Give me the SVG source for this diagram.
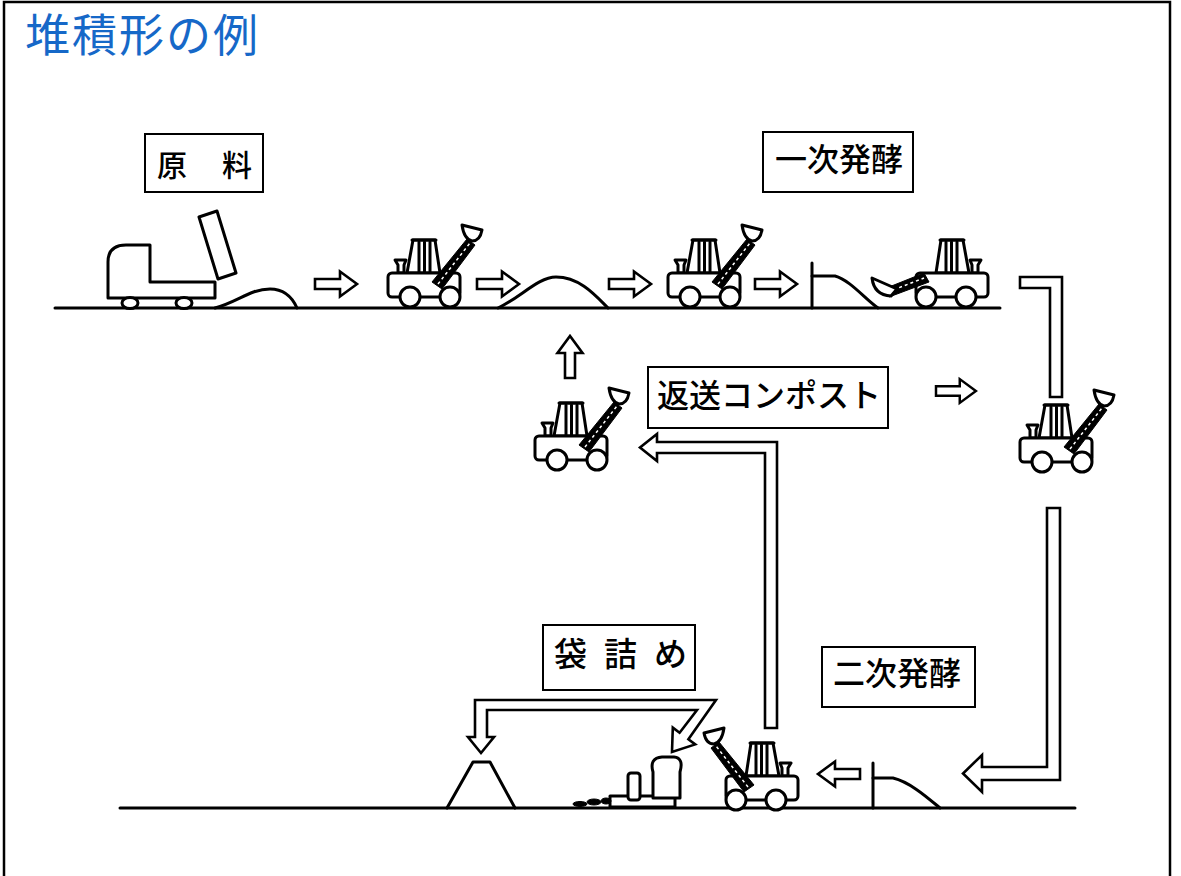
<svg xmlns="http://www.w3.org/2000/svg" xmlns:xlink="http://www.w3.org/1999/xlink" width="1181" height="876" viewBox="0 0 1181 876">
  <style>
    .ln { fill: none; stroke: #000; stroke-width: 3; stroke-linejoin: round; stroke-linecap: round; }
    .sh { fill: #fff; stroke: #000; stroke-width: 3; stroke-linejoin: round; }
    .blk { fill: #000; stroke: #000; stroke-width: 1; stroke-linejoin: round; }
    .hatch { fill: none; stroke: #fff; stroke-width: 1.5; stroke-dasharray: 3 3; }
    .arrow { fill: #fff; stroke: #000; stroke-width: 2.6; stroke-linejoin: miter; }
    .box { fill: #fff; stroke: #000; stroke-width: 2; }
    .lbl { font-family: "Noto Sans CJK JP", "Noto Sans CJK SC", sans-serif; font-weight: 500; fill: #000; }
    .title { font-family: "Noto Sans CJK JP", "Noto Sans CJK SC", sans-serif; fill: #1668c8; font-size: 45px; letter-spacing: 2px; }
  </style>
  <defs>
    <!-- wheel loader seen from the side: origin at body bottom-left, wheel centres on y=0 -->
    <g id="loader-base">
      <path class="sh" d="M19,-24 L25,-57 L47,-57 L52,-24 Z"/>
      <path class="ln" stroke-width="3.5" d="M31,-55 V-25 M36.5,-55 V-25 M42,-55 V-25"/>
      <path class="ln" stroke-width="4.5" d="M24,-57 H48"/>
      <path class="sh" d="M10,-24 V-32 L7,-37 H18 L16,-32 V-24 Z"/>
      <rect class="sh" x="0" y="-24" width="72" height="24" rx="4"/>
    </g>
    <g id="loader-wheels">
      <circle class="sh" cx="22" cy="0" r="10"/>
      <circle class="sh" cx="62" cy="0" r="10"/>
    </g>
    <!-- boom lifted with bucket up -->
    <g id="boom-up">
      <polygon class="blk" points="44,-15 54,-8 87,-52 79,-58"/>
      <path class="hatch" d="M50,-13 L82,-54"/>
      <path class="sh" d="M74,-72 L94,-67 Q92,-56 84,-56 Q76,-58 74,-72 Z"/>
    </g>
    <g id="loader-up">
      <use xlink:href="#loader-base"/>
      <use xlink:href="#boom-up"/>
      <use xlink:href="#loader-wheels"/>
    </g>
    <!-- hollow block arrow pointing right, origin at tail centre -->
    <path id="arrow-r" class="arrow" d="M0,-5 L25,-5 L25,-12.5 L42,0 L25,12.5 L25,5 L0,5 Z"/>
  </defs>

  <!-- outer frame and heading -->
  <rect x="4" y="2" width="1166" height="900" fill="none" stroke="#000" stroke-width="2.5"/>
  <text class="title" x="25" y="52">堆積形の例</text>

  <!-- ground lines -->
  <g id="ground">
    <path class="ln" d="M55,308 H1000"/>
    <path class="ln" d="M120,808 H1075"/>
  </g>

  <!-- labels -->
  <g id="label-raw">
    <rect class="box" x="145" y="134" width="118" height="58"/>
    <text class="lbl" font-size="30" x="157 222" y="176">原料</text>
  </g>
  <g id="label-primary">
    <rect class="box" x="763" y="132" width="150" height="60"/>
    <text class="lbl" font-size="32" x="775" y="171">一次発酵</text>
  </g>
  <g id="label-return">
    <rect class="box" x="648" y="367" width="240" height="61"/>
    <text class="lbl" font-size="32" x="657" y="407">返送コンポスト</text>
  </g>
  <g id="label-bagging">
    <rect class="box" x="543" y="625" width="152" height="65"/>
    <text class="lbl" font-size="33" x="554 604 654" y="666">袋詰め</text>
  </g>
  <g id="label-secondary">
    <rect class="box" x="822" y="647" width="153" height="60"/>
    <text class="lbl" font-size="32" x="833" y="685">二次発酵</text>
  </g>

  <!-- dump truck unloading raw material -->
  <g id="truck">
    <path class="sh" d="M108,298 V262 Q108,245 126,245 H150 V282 H215 V298 Z"/>
    <polygon class="sh" points="199,217 217,211 236,273 218,279"/>
    <ellipse class="sh" cx="130" cy="303" rx="8" ry="5.5"/>
    <ellipse class="sh" cx="184" cy="303" rx="8" ry="5.5"/>
  </g>
  <g id="pile-raw">
    <path class="ln" d="M215,308 C238,302 250,289 270,289 C285,289 293,299 297,308"/>
  </g>

  <g id="loader-1"><use xlink:href="#loader-up" transform="translate(388,297)"/></g>
  <g id="pile-mix">
    <path class="ln" d="M498,308 C520,298 538,277 556,277 C580,277 596,296 608,308"/>
  </g>
  <g id="loader-2"><use xlink:href="#loader-up" transform="translate(668,297)"/></g>

  <!-- primary fermentation heap against a wall -->
  <g id="pile-primary">
    <path class="ln" d="M812,263 V308"/>
    <path class="ln" d="M812,276 H835 C850,280 866,300 878,308"/>
  </g>
  <g id="loader-3">
    <g transform="translate(988,297) scale(-1,1)">
      <use xlink:href="#loader-base"/>
    </g>
    <polygon class="blk" points="884,289 889,297 929,282 924,273"/>
    <path class="hatch" d="M888,292 L924,278"/>
    <path class="sh" d="M872,278 Q874,295 891,296 L897,289 Z"/>
    <g transform="translate(988,297) scale(-1,1)">
      <use xlink:href="#loader-wheels"/>
    </g>
  </g>

  <g id="loader-4"><use xlink:href="#loader-up" transform="translate(1020,462)"/></g>
  <g id="loader-6"><use xlink:href="#loader-up" transform="translate(535,460)"/></g>

  <!-- secondary fermentation heap against a wall -->
  <g id="pile-secondary">
    <path class="ln" d="M873,763 V808"/>
    <path class="ln" d="M873,778 H893 C910,782 928,798 940,808"/>
  </g>
  <g id="loader-5"><use xlink:href="#loader-up" transform="translate(798,800) scale(-1,1)"/></g>

  <!-- bagging machine and product heap -->
  <g id="bagger">
    <rect class="sh" x="610" y="796" width="65" height="11"/>
    <rect class="sh" x="628" y="773" width="12" height="27" rx="3"/>
    <path class="sh" d="M653,798 V772 Q649,758 662,757 H674 Q684,758 680,772 V798 Z"/>
    <ellipse class="blk" cx="580" cy="804" rx="7" ry="2.5"/>
    <ellipse class="blk" cx="594" cy="802" rx="7" ry="3"/>
    <ellipse class="blk" cx="606" cy="801" rx="5" ry="3"/>
  </g>
  <g id="pile-product">
    <path class="ln" d="M447,808 L473,762 H490 L515,808"/>
  </g>

  <!-- flow connectors -->
  <g id="connectors">
    <use xlink:href="#arrow-r" transform="translate(315,284)"/>
    <use xlink:href="#arrow-r" transform="translate(477,284)"/>
    <use xlink:href="#arrow-r" transform="translate(609,284)"/>
    <use xlink:href="#arrow-r" transform="translate(755,284)"/>
    <use xlink:href="#arrow-r" transform="translate(936,391) scale(0.95)"/>
    <use xlink:href="#arrow-r" transform="translate(860,774) scale(-1,1)"/>
    <use xlink:href="#arrow-r" transform="translate(570,378) rotate(-90)"/>
    <!-- band from primary heap down to the turning loader -->
    <polygon class="arrow" points="1020,277 1062,277 1062,397 1050,397 1050,288 1020,288"/>
    <!-- band down to the secondary heap -->
    <polygon class="arrow" points="1047,508 1060,508 1060,780 982,780 982,792 963,773.5 982,755 982,767 1047,767"/>
    <!-- return compost band -->
    <polygon class="arrow" points="765,728 777,728 777,442 657,442 657,434 640,447.5 657,461 657,453 765,453"/>
    <!-- bagging loop -->
    <polygon class="arrow" points="475,737 475,700 716,700 688.4,739.3 695.2,744.4 672,752 672.8,727.6 679.6,732.7 697,710 487,710 487,737 494,737 481,753 468,737"/>
  </g>
</svg>
